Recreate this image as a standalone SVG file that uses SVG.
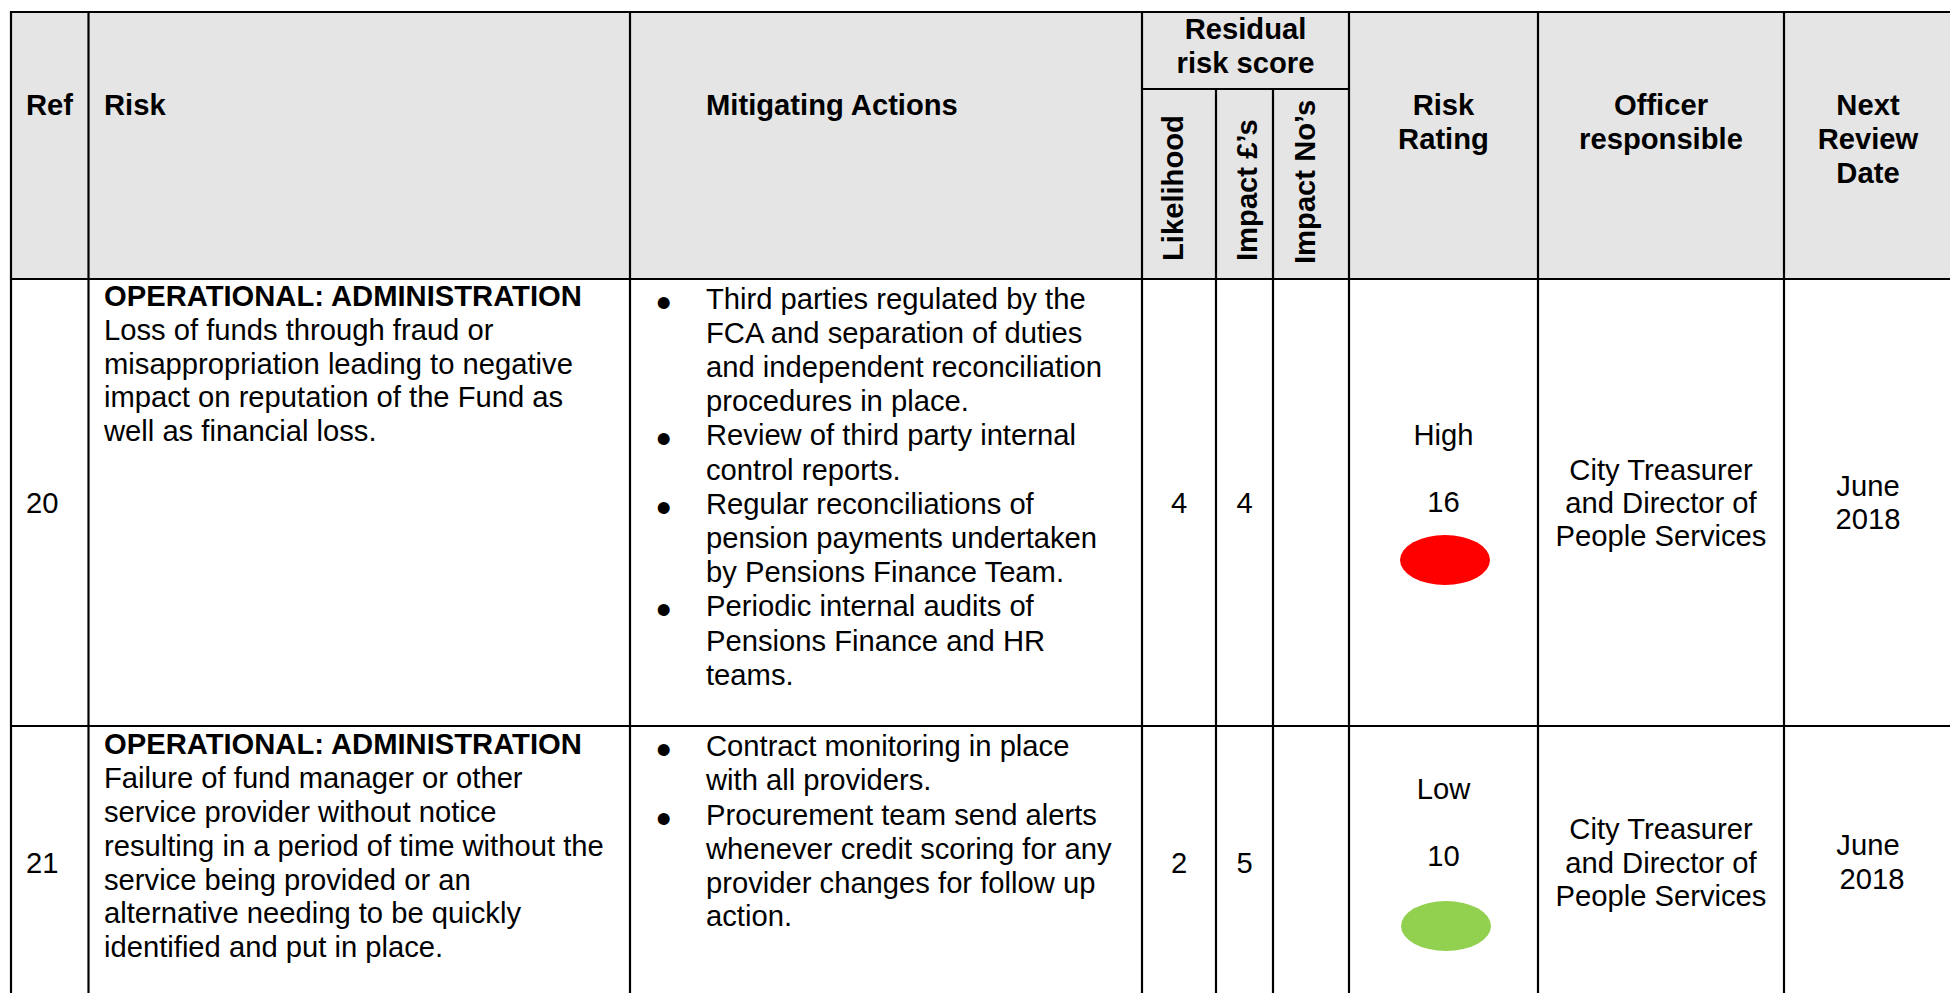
<svg xmlns="http://www.w3.org/2000/svg" width="1950" height="993" viewBox="0 0 1950 993">
<style>
text{font-family:"Liberation Sans",Arial,sans-serif;font-size:29.2px;fill:#000}
.b{font-weight:bold}
.c{text-anchor:middle}
.grid line{stroke:#000;stroke-width:2.2}
.bul{font-size:44px}
</style>
<rect x="0" y="0" width="1950" height="993" fill="#fff"/>
<g id="header">
<rect x="11" y="12" width="1945" height="267" fill="#e5e5e5"/>
<text class="b" x="26" y="115">Ref</text>
<text class="b" x="104" y="115">Risk</text>
<text class="b" x="706" y="115">Mitigating Actions</text>
<text class="b c" x="1245.5" y="39">Residual</text>
<text class="b c" x="1245.5" y="72.5">risk score</text>
<text class="b" transform="translate(1183,261) rotate(-90)">Likelihood</text>
<text class="b" transform="translate(1257,261) rotate(-90)">Impact £’s</text>
<text class="b" transform="translate(1315,264) rotate(-90)">Impact No’s</text>
<text class="b c" x="1443.5" y="115">Risk</text>
<text class="b c" x="1443.5" y="149">Rating</text>
<text class="b c" x="1661" y="115">Officer</text>
<text class="b c" x="1661" y="149">responsible</text>
<text class="b c" x="1868" y="115">Next</text>
<text class="b c" x="1868" y="149">Review</text>
<text class="b c" x="1868" y="183">Date</text>
</g>
<g id="row20">
<text x="26" y="513">20</text>
<text class="b" x="104" y="306">OPERATIONAL: ADMINISTRATION</text>
<text x="104" y="340">Loss of funds through fraud or</text>
<text x="104" y="373.5">misappropriation leading to negative</text>
<text x="104" y="407">impact on reputation of the Fund as</text>
<text x="104" y="441">well as financial loss.</text>
<g id="row20-actions">
<text class="bul" x="656" y="317.5">•</text>
<text x="706" y="308.5">Third parties regulated by the</text>
<text x="706" y="342.7">FCA and separation of duties</text>
<text x="706" y="376.9">and independent reconciliation</text>
<text x="706" y="411.1">procedures in place.</text>
<text class="bul" x="656" y="454.3">•</text>
<text x="706" y="445.3">Review of third party internal</text>
<text x="706" y="479.5">control reports.</text>
<text class="bul" x="656" y="522.7">•</text>
<text x="706" y="513.7">Regular reconciliations of</text>
<text x="706" y="547.9">pension payments undertaken</text>
<text x="706" y="582.1">by Pensions Finance Team.</text>
<text class="bul" x="656" y="625.3">•</text>
<text x="706" y="616.3">Periodic internal audits of</text>
<text x="706" y="650.5">Pensions Finance and HR</text>
<text x="706" y="684.7">teams.</text>
</g>
<text class="c" x="1179" y="513">4</text>
<text class="c" x="1244.5" y="513">4</text>
<text class="c" x="1443.5" y="445">High</text>
<text class="c" x="1443.5" y="512">16</text>
<ellipse cx="1445" cy="560" rx="45" ry="25" fill="#ff0000"/>
<text class="c" x="1661" y="480">City Treasurer</text>
<text class="c" x="1661" y="513">and Director of</text>
<text class="c" x="1661" y="546">People Services</text>
<text class="c" x="1868" y="496">June</text>
<text class="c" x="1868" y="529">2018</text>
</g>
<g id="row21">
<text x="26" y="873">21</text>
<text class="b" x="104" y="754.3">OPERATIONAL: ADMINISTRATION</text>
<text x="104" y="788">Failure of fund manager or other</text>
<text x="104" y="821.7">service provider without notice</text>
<text x="104" y="855.7">resulting in a period of time without the</text>
<text x="104" y="889.5">service being provided or an</text>
<text x="104" y="923">alternative needing to be quickly</text>
<text x="104" y="956.7">identified and put in place.</text>
<g id="row21-actions">
<text class="bul" x="656" y="765">•</text>
<text x="706" y="756">Contract monitoring in place</text>
<text x="706" y="790">with all providers.</text>
<text class="bul" x="656" y="833.5">•</text>
<text x="706" y="824.5">Procurement team send alerts</text>
<text x="706" y="858.5">whenever credit scoring for any</text>
<text x="706" y="892.5">provider changes for follow up</text>
<text x="706" y="926">action.</text>
</g>
<text class="c" x="1179" y="872.5">2</text>
<text class="c" x="1244.5" y="872.5">5</text>
<text class="c" x="1443.5" y="798.5">Low</text>
<text class="c" x="1443.5" y="866">10</text>
<ellipse cx="1446" cy="926" rx="45" ry="25" fill="#92d050"/>
<text class="c" x="1661" y="838.5">City Treasurer</text>
<text class="c" x="1661" y="872.5">and Director of</text>
<text class="c" x="1661" y="906">People Services</text>
<text class="c" x="1868" y="855">June</text>
<text class="c" x="1872" y="889">2018</text>
</g>
<g id="connectors" class="grid">
<line x1="10" y1="12" x2="1950" y2="12"/>
<line x1="1142" y1="89" x2="1349" y2="89"/>
<line x1="10" y1="279" x2="1950" y2="279"/>
<line x1="10" y1="726" x2="1950" y2="726"/>
<line x1="11" y1="11" x2="11" y2="993"/>
<line x1="88.5" y1="12" x2="88.5" y2="993"/>
<line x1="630" y1="12" x2="630" y2="993"/>
<line x1="1142" y1="12" x2="1142" y2="993"/>
<line x1="1216" y1="89" x2="1216" y2="993"/>
<line x1="1273" y1="89" x2="1273" y2="993"/>
<line x1="1349" y1="12" x2="1349" y2="993"/>
<line x1="1538" y1="12" x2="1538" y2="993"/>
<line x1="1784" y1="12" x2="1784" y2="993"/>
</g>
</svg>
